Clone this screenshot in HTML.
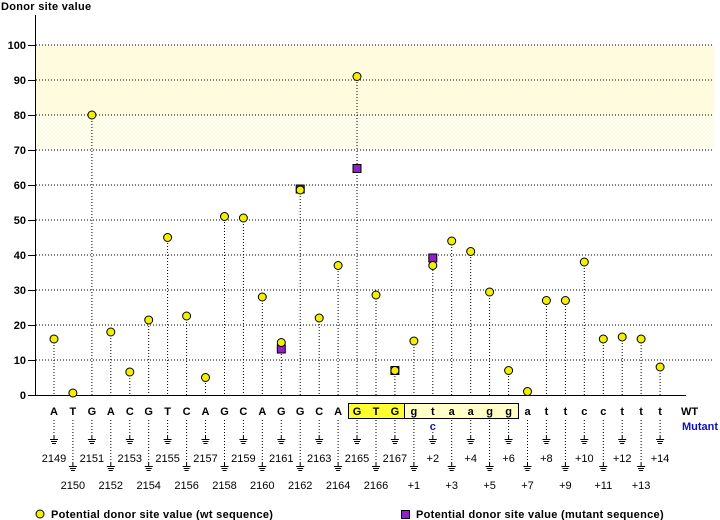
<!DOCTYPE html>
<html><head><meta charset="utf-8"><style>
html,body{margin:0;padding:0;background:#fff}
svg{display:block}
.b{font-family:"Liberation Sans",sans-serif;font-weight:bold;font-size:11px}
.n{font-family:"Liberation Sans",sans-serif;font-size:11px}
.lg{letter-spacing:0.3px}
</style></head><body>
<svg width="720" height="520" viewBox="0 0 720 520" xmlns="http://www.w3.org/2000/svg">
<defs>
<pattern id="hatch" width="4" height="4" patternUnits="userSpaceOnUse"><rect width="4" height="4" fill="#fffff4"/><path d="M0 0L4 4M4 0L0 4" stroke="#fbfbe0" stroke-width="0.7"/></pattern>
<g id="gnd"><line x1="0" y1="0" x2="0" y2="3" stroke="#000"/><line x1="-4" y1="3.5" x2="4" y2="3.5" stroke="#000"/><line x1="-3" y1="5.5" x2="3" y2="5.5" stroke="#000"/><line x1="-2" y1="7.5" x2="2" y2="7.5" stroke="#000"/></g>
</defs>
<rect x="36" y="45" width="678" height="70" fill="#fffbdf"/>
<rect x="36" y="115" width="678" height="35" fill="url(#hatch)"/>
<text x="1" y="10" class="b lg">Donor site value</text>
<g stroke="#000" stroke-dasharray="1,2" stroke-width="1">
<line x1="36" y1="45" x2="714" y2="45"/><line x1="36" y1="80" x2="714" y2="80"/><line x1="36" y1="115" x2="714" y2="115"/><line x1="36" y1="150" x2="714" y2="150"/><line x1="36" y1="185" x2="714" y2="185"/><line x1="36" y1="220" x2="714" y2="220"/><line x1="36" y1="255" x2="714" y2="255"/><line x1="36" y1="290" x2="714" y2="290"/><line x1="36" y1="325" x2="714" y2="325"/><line x1="36" y1="360" x2="714" y2="360"/>
</g>
<line x1="35.5" y1="15" x2="35.5" y2="395" stroke="#000"/>
<line x1="35" y1="395.5" x2="686" y2="395.5" stroke="#000"/>
<g stroke="#000"><line x1="28" y1="45.5" x2="35" y2="45.5"/><line x1="28" y1="80.5" x2="35" y2="80.5"/><line x1="28" y1="115.5" x2="35" y2="115.5"/><line x1="28" y1="150.5" x2="35" y2="150.5"/><line x1="28" y1="185.5" x2="35" y2="185.5"/><line x1="28" y1="220.5" x2="35" y2="220.5"/><line x1="28" y1="255.5" x2="35" y2="255.5"/><line x1="28" y1="290.5" x2="35" y2="290.5"/><line x1="28" y1="325.5" x2="35" y2="325.5"/><line x1="28" y1="360.5" x2="35" y2="360.5"/><line x1="28" y1="395.5" x2="35" y2="395.5"/></g>
<g class="b" text-anchor="end">
<text x="26" y="49">100</text><text x="26" y="84">90</text><text x="26" y="119">80</text><text x="26" y="154">70</text><text x="26" y="189">60</text><text x="26" y="224">50</text><text x="26" y="259">40</text><text x="26" y="294">30</text><text x="26" y="329">20</text><text x="26" y="364">10</text><text x="26" y="399">0</text>
</g>
<g stroke="#000" stroke-dasharray="1,2">
<line x1="54" y1="339" x2="54" y2="395"/><line x1="72.9" y1="393" x2="72.9" y2="395"/><line x1="91.9" y1="115" x2="91.9" y2="395"/><line x1="110.8" y1="332" x2="110.8" y2="395"/><line x1="129.8" y1="372" x2="129.8" y2="395"/><line x1="148.7" y1="320" x2="148.7" y2="395"/><line x1="167.6" y1="237" x2="167.6" y2="395"/><line x1="186.6" y1="316" x2="186.6" y2="395"/><line x1="205.5" y1="377" x2="205.5" y2="395"/><line x1="224.5" y1="216" x2="224.5" y2="395"/><line x1="243.4" y1="218" x2="243.4" y2="395"/><line x1="262.3" y1="297" x2="262.3" y2="395"/><line x1="281.3" y1="342" x2="281.3" y2="395"/><line x1="300.2" y1="190" x2="300.2" y2="395"/><line x1="319.2" y1="318" x2="319.2" y2="395"/><line x1="338.1" y1="265" x2="338.1" y2="395"/><line x1="357" y1="76" x2="357" y2="395"/><line x1="376" y1="295" x2="376" y2="395"/><line x1="394.9" y1="370" x2="394.9" y2="395"/><line x1="413.9" y1="341" x2="413.9" y2="395"/><line x1="432.8" y1="258" x2="432.8" y2="395"/><line x1="451.7" y1="241" x2="451.7" y2="395"/><line x1="470.7" y1="251" x2="470.7" y2="395"/><line x1="489.6" y1="292" x2="489.6" y2="395"/><line x1="508.6" y1="370" x2="508.6" y2="395"/><line x1="527.5" y1="391" x2="527.5" y2="395"/><line x1="546.4" y1="300" x2="546.4" y2="395"/><line x1="565.4" y1="300" x2="565.4" y2="395"/><line x1="584.3" y1="262" x2="584.3" y2="395"/><line x1="603.3" y1="339" x2="603.3" y2="395"/><line x1="622.2" y1="337" x2="622.2" y2="395"/><line x1="641.1" y1="339" x2="641.1" y2="395"/><line x1="660.1" y1="367" x2="660.1" y2="395"/>
</g>
<g fill="#9020c8" stroke="#000">
<rect x="277.3" y="345" width="8" height="8"/><rect x="296.2" y="185" width="8" height="8"/><rect x="353" y="164.5" width="8" height="8"/><rect x="390.9" y="366.5" width="8" height="8"/><rect x="428.8" y="254" width="8" height="8"/>
</g>
<g fill="#f0f000" stroke="#000">
<circle cx="54" cy="339" r="4"/><circle cx="72.9" cy="393" r="4"/><circle cx="91.9" cy="115" r="4"/><circle cx="110.8" cy="332" r="4"/><circle cx="129.8" cy="372" r="4"/><circle cx="148.7" cy="320" r="4"/><circle cx="167.6" cy="237.5" r="4"/><circle cx="186.6" cy="316" r="4"/><circle cx="205.5" cy="377.5" r="4"/><circle cx="224.5" cy="216.5" r="4"/><circle cx="243.4" cy="218" r="4"/><circle cx="262.3" cy="297" r="4"/><circle cx="281.3" cy="342.5" r="4"/><circle cx="300.2" cy="190" r="4"/><circle cx="319.2" cy="318" r="4"/><circle cx="338.1" cy="265.5" r="4"/><circle cx="357" cy="76.5" r="4"/><circle cx="376" cy="295" r="4"/><circle cx="394.9" cy="370.5" r="4"/><circle cx="413.9" cy="341" r="4"/><circle cx="432.8" cy="265.5" r="4"/><circle cx="451.7" cy="241" r="4"/><circle cx="470.7" cy="251.5" r="4"/><circle cx="489.6" cy="292" r="4"/><circle cx="508.6" cy="370.5" r="4"/><circle cx="527.5" cy="391.5" r="4"/><circle cx="546.4" cy="300.5" r="4"/><circle cx="565.4" cy="300.5" r="4"/><circle cx="584.3" cy="262" r="4"/><circle cx="603.3" cy="339" r="4"/><circle cx="622.2" cy="337" r="4"/><circle cx="641.1" cy="339" r="4"/><circle cx="660.1" cy="367" r="4"/>
</g>
<rect x="348.5" y="403.5" width="170" height="15" fill="#ffffc8" stroke="#000"/>
<rect x="348.5" y="403.5" width="56" height="15" fill="#ffff30" stroke="#000"/>
<g class="b" text-anchor="middle">
<text x="54" y="415">A</text><text x="72.9" y="415">T</text><text x="91.9" y="415">G</text><text x="110.8" y="415">A</text><text x="129.8" y="415">C</text><text x="148.7" y="415">G</text><text x="167.6" y="415">T</text><text x="186.6" y="415">C</text><text x="205.5" y="415">A</text><text x="224.5" y="415">G</text><text x="243.4" y="415">C</text><text x="262.3" y="415">A</text><text x="281.3" y="415">G</text><text x="300.2" y="415">G</text><text x="319.2" y="415">C</text><text x="338.1" y="415">A</text><text x="357" y="415">G</text><text x="376" y="415">T</text><text x="394.9" y="415">G</text><text x="413.9" y="415">g</text><text x="432.8" y="415">t</text><text x="451.7" y="415">a</text><text x="470.7" y="415">a</text><text x="489.6" y="415">g</text><text x="508.6" y="415">g</text><text x="527.5" y="415">a</text><text x="546.4" y="415">t</text><text x="565.4" y="415">t</text><text x="584.3" y="415">c</text><text x="603.3" y="415">c</text><text x="622.2" y="415">t</text><text x="641.1" y="415">t</text><text x="660.1" y="415">t</text>
<text x="432.8" y="430" fill="#1010c0">c</text>
</g>
<text x="681" y="415" class="b">WT</text>
<text x="682" y="430" class="b" fill="#1010c0">Mutant</text>
<g stroke="#000" stroke-dasharray="1,2">
<line x1="54" y1="420" x2="54" y2="436"/><line x1="72.9" y1="420" x2="72.9" y2="463"/><line x1="91.9" y1="420" x2="91.9" y2="436"/><line x1="110.8" y1="420" x2="110.8" y2="463"/><line x1="129.8" y1="420" x2="129.8" y2="436"/><line x1="148.7" y1="420" x2="148.7" y2="463"/><line x1="167.6" y1="420" x2="167.6" y2="436"/><line x1="186.6" y1="420" x2="186.6" y2="463"/><line x1="205.5" y1="420" x2="205.5" y2="436"/><line x1="224.5" y1="420" x2="224.5" y2="463"/><line x1="243.4" y1="420" x2="243.4" y2="436"/><line x1="262.3" y1="420" x2="262.3" y2="463"/><line x1="281.3" y1="420" x2="281.3" y2="436"/><line x1="300.2" y1="420" x2="300.2" y2="463"/><line x1="319.2" y1="420" x2="319.2" y2="436"/><line x1="338.1" y1="420" x2="338.1" y2="463"/><line x1="357" y1="420" x2="357" y2="436"/><line x1="376" y1="420" x2="376" y2="463"/><line x1="394.9" y1="420" x2="394.9" y2="436"/><line x1="413.9" y1="420" x2="413.9" y2="463"/><line x1="432.8" y1="432" x2="432.8" y2="436"/><line x1="451.7" y1="420" x2="451.7" y2="463"/><line x1="470.7" y1="420" x2="470.7" y2="436"/><line x1="489.6" y1="420" x2="489.6" y2="463"/><line x1="508.6" y1="420" x2="508.6" y2="436"/><line x1="527.5" y1="420" x2="527.5" y2="463"/><line x1="546.4" y1="420" x2="546.4" y2="436"/><line x1="565.4" y1="420" x2="565.4" y2="463"/><line x1="584.3" y1="420" x2="584.3" y2="436"/><line x1="603.3" y1="420" x2="603.3" y2="463"/><line x1="622.2" y1="420" x2="622.2" y2="436"/><line x1="641.1" y1="420" x2="641.1" y2="463"/><line x1="660.1" y1="420" x2="660.1" y2="436"/>
</g>
<g>
<use href="#gnd" x="54" y="436"/><use href="#gnd" x="72.9" y="463"/><use href="#gnd" x="91.9" y="436"/><use href="#gnd" x="110.8" y="463"/><use href="#gnd" x="129.8" y="436"/><use href="#gnd" x="148.7" y="463"/><use href="#gnd" x="167.6" y="436"/><use href="#gnd" x="186.6" y="463"/><use href="#gnd" x="205.5" y="436"/><use href="#gnd" x="224.5" y="463"/><use href="#gnd" x="243.4" y="436"/><use href="#gnd" x="262.3" y="463"/><use href="#gnd" x="281.3" y="436"/><use href="#gnd" x="300.2" y="463"/><use href="#gnd" x="319.2" y="436"/><use href="#gnd" x="338.1" y="463"/><use href="#gnd" x="357" y="436"/><use href="#gnd" x="376" y="463"/><use href="#gnd" x="394.9" y="436"/><use href="#gnd" x="413.9" y="463"/><use href="#gnd" x="432.8" y="436"/><use href="#gnd" x="451.7" y="463"/><use href="#gnd" x="470.7" y="436"/><use href="#gnd" x="489.6" y="463"/><use href="#gnd" x="508.6" y="436"/><use href="#gnd" x="527.5" y="463"/><use href="#gnd" x="546.4" y="436"/><use href="#gnd" x="565.4" y="463"/><use href="#gnd" x="584.3" y="436"/><use href="#gnd" x="603.3" y="463"/><use href="#gnd" x="622.2" y="436"/><use href="#gnd" x="641.1" y="463"/><use href="#gnd" x="660.1" y="436"/>
</g>
<g class="n" text-anchor="middle">
<text x="54" y="462">2149</text><text x="72.9" y="489">2150</text><text x="91.9" y="462">2151</text><text x="110.8" y="489">2152</text><text x="129.8" y="462">2153</text><text x="148.7" y="489">2154</text><text x="167.6" y="462">2155</text><text x="186.6" y="489">2156</text><text x="205.5" y="462">2157</text><text x="224.5" y="489">2158</text><text x="243.4" y="462">2159</text><text x="262.3" y="489">2160</text><text x="281.3" y="462">2161</text><text x="300.2" y="489">2162</text><text x="319.2" y="462">2163</text><text x="338.1" y="489">2164</text><text x="357" y="462">2165</text><text x="376" y="489">2166</text><text x="394.9" y="462">2167</text><text x="413.9" y="489">+1</text><text x="432.8" y="462">+2</text><text x="451.7" y="489">+3</text><text x="470.7" y="462">+4</text><text x="489.6" y="489">+5</text><text x="508.6" y="462">+6</text><text x="527.5" y="489">+7</text><text x="546.4" y="462">+8</text><text x="565.4" y="489">+9</text><text x="584.3" y="462">+10</text><text x="603.3" y="489">+11</text><text x="622.2" y="462">+12</text><text x="641.1" y="489">+13</text><text x="660.1" y="462">+14</text>
</g>
<circle cx="40" cy="514" r="4" fill="#f0f000" stroke="#000"/>
<text x="51" y="518" class="b lg">Potential donor site value (wt sequence)</text>
<rect x="401.5" y="510.5" width="8" height="8" fill="#9020c8" stroke="#000"/>
<text x="416" y="518" class="b lg">Potential donor site value (mutant sequence)</text>
</svg>
</body></html>
